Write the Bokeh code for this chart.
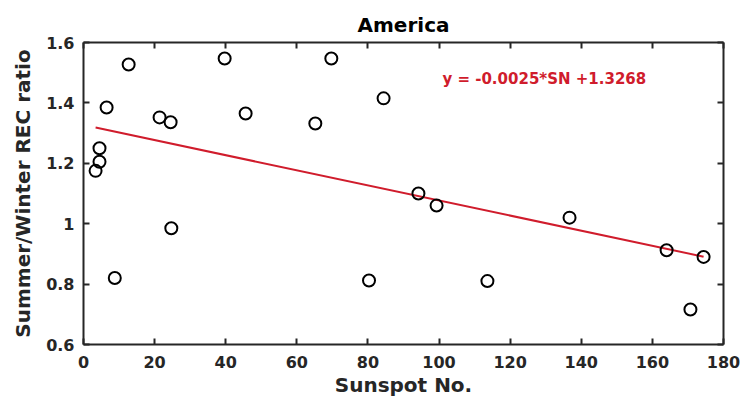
from bokeh.plotting import figure
from bokeh.models import LinearAxis, FixedTicker, CustomJSTickFormatter, Range1d, ColumnDataSource, Label
from bokeh.embed import file_html
from bokeh.resources import INLINE

sunspot = [3.4, 4.5, 4.5, 6.5, 8.8, 12.7, 21.4, 24.5, 24.7, 39.7, 45.6, 65.2, 69.7,
           80.3, 84.4, 94.2, 99.3, 113.6, 136.7, 164.0, 170.7, 174.4]
ratio = [1.175, 1.205, 1.25, 1.385, 0.82, 1.527, 1.352, 1.336, 0.985, 1.547, 1.365, 1.332, 1.547,
         0.812, 1.415, 1.10, 1.06, 0.81, 1.02, 0.912, 0.716, 0.89]
slope = -0.0025
intercept = 1.3268
x_ticks = [0, 20, 40, 60, 80, 100, 120, 140, 160, 180]
y_ticks = [0.6, 0.8, 1.0, 1.2, 1.4, 1.6]
title_text = "America"
x_label = "Sunspot No."
y_label = "Summer/Winter REC ratio"
eq_text = "y = -0.0025*SN +1.3268"

FONT = "DejaVu Sans"
AX = "#262626"
RED = "#d01c2c"

p = figure(width=748, height=401, output_backend="svg", toolbar_location=None,
           x_range=Range1d(0, 180), y_range=Range1d(0.6, 1.6),
           min_border_left=83, min_border_right=25, min_border_top=42, min_border_bottom=57)
p.title.text = title_text
p.title.align = "center"
p.title.text_font = FONT
p.title.text_font_size = "20px"
p.title.text_font_style = "bold"
p.title.text_color = "#000000"
p.title.offset = 0
p.title.standoff = 12
p.grid.visible = False
p.outline_line_color = None
p.background_fill_color = "white"
p.border_fill_color = "white"

for ax in (p.xaxis[0], p.yaxis[0]):
    ax.axis_line_color = AX
    ax.axis_line_width = 2
    ax.major_tick_line_color = AX
    ax.major_tick_line_width = 2
    ax.major_tick_in = 6
    ax.major_tick_out = 0
    ax.minor_tick_line_color = None
    ax.major_label_text_font = FONT
    ax.major_label_text_font_size = "16px"
    ax.major_label_text_font_style = "bold"
    ax.major_label_text_color = AX
    ax.axis_label_text_font = FONT
    ax.axis_label_text_font_size = "20px"
    ax.axis_label_text_font_style = "bold"
    ax.axis_label_text_color = AX

p.xaxis.ticker = FixedTicker(ticks=x_ticks)
p.yaxis.ticker = FixedTicker(ticks=y_ticks)
p.yaxis.formatter = CustomJSTickFormatter(code="return (Math.round(tick*10)/10).toString();")
p.xaxis.axis_label = x_label
p.yaxis.axis_label = y_label
p.xaxis.axis_label_standoff = 2
p.yaxis.axis_label_standoff = 8
p.xaxis.major_label_standoff = 11
p.yaxis.major_label_standoff = 9

empty = CustomJSTickFormatter(code="return '';")
top = LinearAxis(ticker=FixedTicker(ticks=x_ticks), formatter=empty)
right = LinearAxis(ticker=FixedTicker(ticks=y_ticks), formatter=empty)
for ax in (top, right):
    ax.axis_line_color = AX
    ax.axis_line_width = 2
    ax.major_tick_line_color = AX
    ax.major_tick_line_width = 2
    ax.major_tick_in = 6
    ax.major_tick_out = 0
    ax.minor_tick_line_color = None
    ax.major_label_standoff = 0
p.add_layout(top, "above")
p.add_layout(right, "right")

fit_x = [min(sunspot), max(sunspot)]
fit_y = [slope * v + intercept for v in fit_x]
p.line(fit_x, fit_y, line_color=RED, line_width=2)

src = ColumnDataSource(dict(x=sunspot, y=ratio))
p.scatter("x", "y", source=src, marker="circle", size=12, fill_color=None,
          line_color="black", line_width=2)

eq = Label(x=129.6, y=1.478, text=eq_text, text_font=FONT, text_font_size="15px",
           text_font_style="bold", text_color=RED, text_align="center", text_baseline="middle")
p.add_layout(eq)

open("out.html", "w").write(file_html(p, INLINE))
